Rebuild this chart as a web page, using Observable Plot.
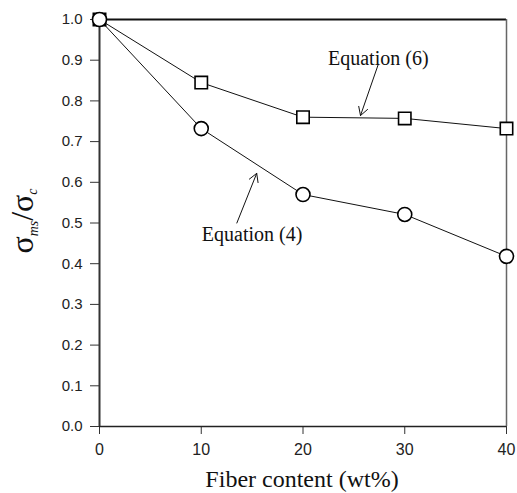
<!DOCTYPE html>
<html>
<head>
<meta charset="utf-8">
<script src="https://cdn.jsdelivr.net/npm/d3@7"></script>
<script src="https://cdn.jsdelivr.net/npm/@observablehq/plot@0.6"></script>
<style>
  html, body { margin: 0; padding: 0; background: #fff; }
  #chart { width: 517px; height: 493px; }
</style>
</head>
<body>
<div id="chart"></div>
<script>
const fiber = [0, 10, 20, 30, 40];
const eq6 = [1.0, 0.845, 0.760, 0.757, 0.732];
const eq4 = [1.0, 0.732, 0.570, 0.521, 0.418];
const xTicks = [0, 10, 20, 30, 40];
const yTicks = [0, 0.1, 0.2, 0.3, 0.4, 0.5, 0.6, 0.7, 0.8, 0.9, 1.0];
const annoLabels = ["Equation (6)", "Equation (4)"];
const annoX = [27.4, 15.0];
const annoY = [0.905, 0.472];
const arrowX1 = [27.4, 13.5];
const arrowY1 = [0.89, 0.50];
const arrowX2 = [25.65, 15.45];
const arrowY2 = [0.764, 0.622];

const sq = fiber.map((x, i) => ({x, y: eq6[i]}));
const ci = fiber.map((x, i) => ({x, y: eq4[i]}));
const anno = annoLabels.map((t, i) => ({t, x: annoX[i], y: annoY[i], x1: arrowX1[i], y1: arrowY1[i], x2: arrowX2[i], y2: arrowY2[i]}));

const sans = "'Liberation Sans', Arial, sans-serif";
const serif = "'Liberation Serif', 'Times New Roman', serif";

const chart = Plot.plot({
  width: 517,
  height: 493,
  marginLeft: 99,
  marginRight: 11,
  marginTop: 19,
  marginBottom: 67,
  style: {fontFamily: sans, fontSize: "15px", color: "#222", background: "#fff", overflow: "visible"},
  x: {domain: [0, 40], label: null},
  y: {domain: [0, 1], label: null},
  marks: [
    Plot.axisX({ticks: xTicks, tickSize: 8, tickPadding: 9, fontSize: 16, label: null, stroke: "#333", fill: "#222"}),
    Plot.axisY({ticks: yTicks, tickFormat: d3.format(".1f"), tickSize: 9, tickPadding: 8, fontSize: 15, label: null, stroke: "#333", fill: "#222"}),
    Plot.ruleY([1], {stroke: "#111", strokeWidth: 2}),
    Plot.ruleX([40], {stroke: "#666", strokeWidth: 1.5}),
    Plot.ruleY([0], {stroke: "#222", strokeWidth: 1.5}),
    Plot.ruleX([0], {stroke: "#333", strokeWidth: 2}),
    Plot.line(sq, {x: "x", y: "y", stroke: "#111", strokeWidth: 1}),
    Plot.line(ci, {x: "x", y: "y", stroke: "#111", strokeWidth: 1}),
    Plot.dot(sq, {x: "x", y: "y", symbol: "square", r: 7, fill: "#fff", stroke: "#000", strokeWidth: 1.6}),
    Plot.dot(ci, {x: "x", y: "y", symbol: "circle", r: 7, fill: "#fff", stroke: "#000", strokeWidth: 1.6}),
    Plot.arrow(anno, {x1: "x1", y1: "y1", x2: "x2", y2: "y2", stroke: "#111", strokeWidth: 1, headLength: 14, bend: 0}),
    Plot.text(anno, {x: "x", y: "y", text: "t", fontFamily: serif, fontSize: 20, fill: "#111"})
  ]
});

const svg = d3.select(chart);
svg.append("text")
  .attr("x", 302)
  .attr("y", 487)
  .attr("text-anchor", "middle")
  .attr("font-family", serif)
  .attr("font-size", 24)
  .attr("fill", "#111")
  .text("Fiber content (wt%)");

const yl = svg.append("text")
  .attr("transform", "translate(33,221) rotate(-90)")
  .attr("text-anchor", "middle")
  .attr("font-family", serif)
  .attr("font-size", 32)
  .attr("fill", "#111");
yl.append("tspan").text("σ");
yl.append("tspan").attr("font-size", 14).attr("font-style", "italic").attr("dy", 5).text("ms");
yl.append("tspan").attr("dy", -5).text("/σ");
yl.append("tspan").attr("font-size", 14).attr("font-style", "italic").attr("dy", 4).text("c");

document.getElementById("chart").appendChild(chart);
</script>
</body>
</html>
